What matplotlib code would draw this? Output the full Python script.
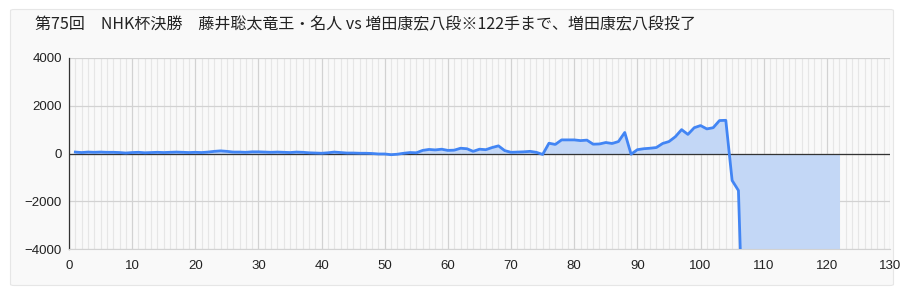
import matplotlib
matplotlib.use("Agg")
import matplotlib.pyplot as plt
from matplotlib.patches import FancyBboxPatch

TITLE = "第75回　NHK杯決勝　藤井聡太竜王・名人 vs 増田康宏八段※122手まで、増田康宏八段投了"

# 評価値 (手数 1..122)
moves = list(range(1, 123))
scores = [
    60, 40, 60, 50, 60, 50, 50, 40, 20, 40,
    50, 30, 40, 50, 40, 50, 60, 50, 40, 50,
    40, 60, 90, 110, 90, 60, 60, 50, 70, 70,
    60, 50, 60, 50, 40, 60, 50, 30, 20, 10,
    30, 60, 40, 20, 20, 10, 10, 0, -20, -20,
    -50, -30, 10, 40, 30, 130, 170, 150, 180, 130,
    140, 220, 200, 90, 180, 160, 250, 320, 120, 50,
    60, 70, 90, 50, -40, 430, 380, 570, 570, 570,
    540, 560, 390, 400, 460, 420, 500, 880, -30, 160,
    200, 220, 250, 420, 500, 700, 1000, 800, 1080, 1170,
    1030, 1080, 1380, 1390, -1130, -1550, -10000, -10000, -10000, -10000,
    -10000, -10000, -10000, -10000, -10000, -10000, -10000, -10000, -10000, -10000,
    -10000, -10000,
]
x_ticks = list(range(0, 131, 10))
y_ticks = [-4000, -2000, 0, 2000, 4000]

LINE = "#4285f4"
FILL = "#c3d7f6"

fig = plt.figure(figsize=(9.13, 3.0), dpi=100)
fig.patch.set_facecolor("white")

panel = FancyBboxPatch((10.5 / 913, 1 - 285.5 / 300), 883 / 913, 276 / 300,
                       boxstyle="round,pad=0,rounding_size=0.004",
                       transform=fig.transFigure, facecolor="#f9f9f9",
                       edgecolor="#e6e6e6", linewidth=0.8, zorder=-5)
fig.patches.append(panel)

fig.text(35 / 913, 1 - 25 / 300, TITLE, fontsize=11.5, color="#222222",
         va="center", ha="left", family=["Noto Sans CJK JP", "DejaVu Sans"])

ax = fig.add_axes([69 / 913, 1 - 249 / 300, 821 / 913, 191 / 300])
ax.set_zorder(2)
ax.set_facecolor("#f9f9f9")

ax.fill_between(moves, scores, 0, color=FILL, linewidth=0, zorder=2)
ax.plot(moves, scores, color=LINE, linewidth=2.0, zorder=4, solid_joinstyle="round")
ax.axhline(0, color="#333333", linewidth=0.9, zorder=3)

ax.set_xlim(0, 130)
ax.set_ylim(-4000, 4000)
ax.set_xticks(x_ticks)
ax.set_yticks(y_ticks)
ax.set_xticks(range(0, 131), minor=True)
ax.grid(which="minor", axis="x", color="#e6e6e6", linewidth=0.8, zorder=1)
ax.grid(which="major", axis="x", color="#d2d2d2", linewidth=0.9, zorder=1)
ax.grid(which="major", axis="y", color="#d2d2d2", linewidth=0.9, zorder=1)
ax.set_axisbelow(True)
ax.tick_params(which="both", length=0)
ax.tick_params(axis="x", pad=8)
ax.tick_params(axis="y", pad=5)

for lab in ax.get_xticklabels() + ax.get_yticklabels():
    lab.set_family(["Liberation Sans", "DejaVu Sans"])
    lab.set_fontsize(9.5)
    lab.set_color("#222222")

for side in ["top", "right"]:
    ax.spines[side].set_visible(False)
ax.spines["bottom"].set_color("#d2d2d2")
ax.spines["left"].set_color("#333333")
ax.spines["left"].set_linewidth(0.9)

fig.savefig("out.png", dpi=100)
